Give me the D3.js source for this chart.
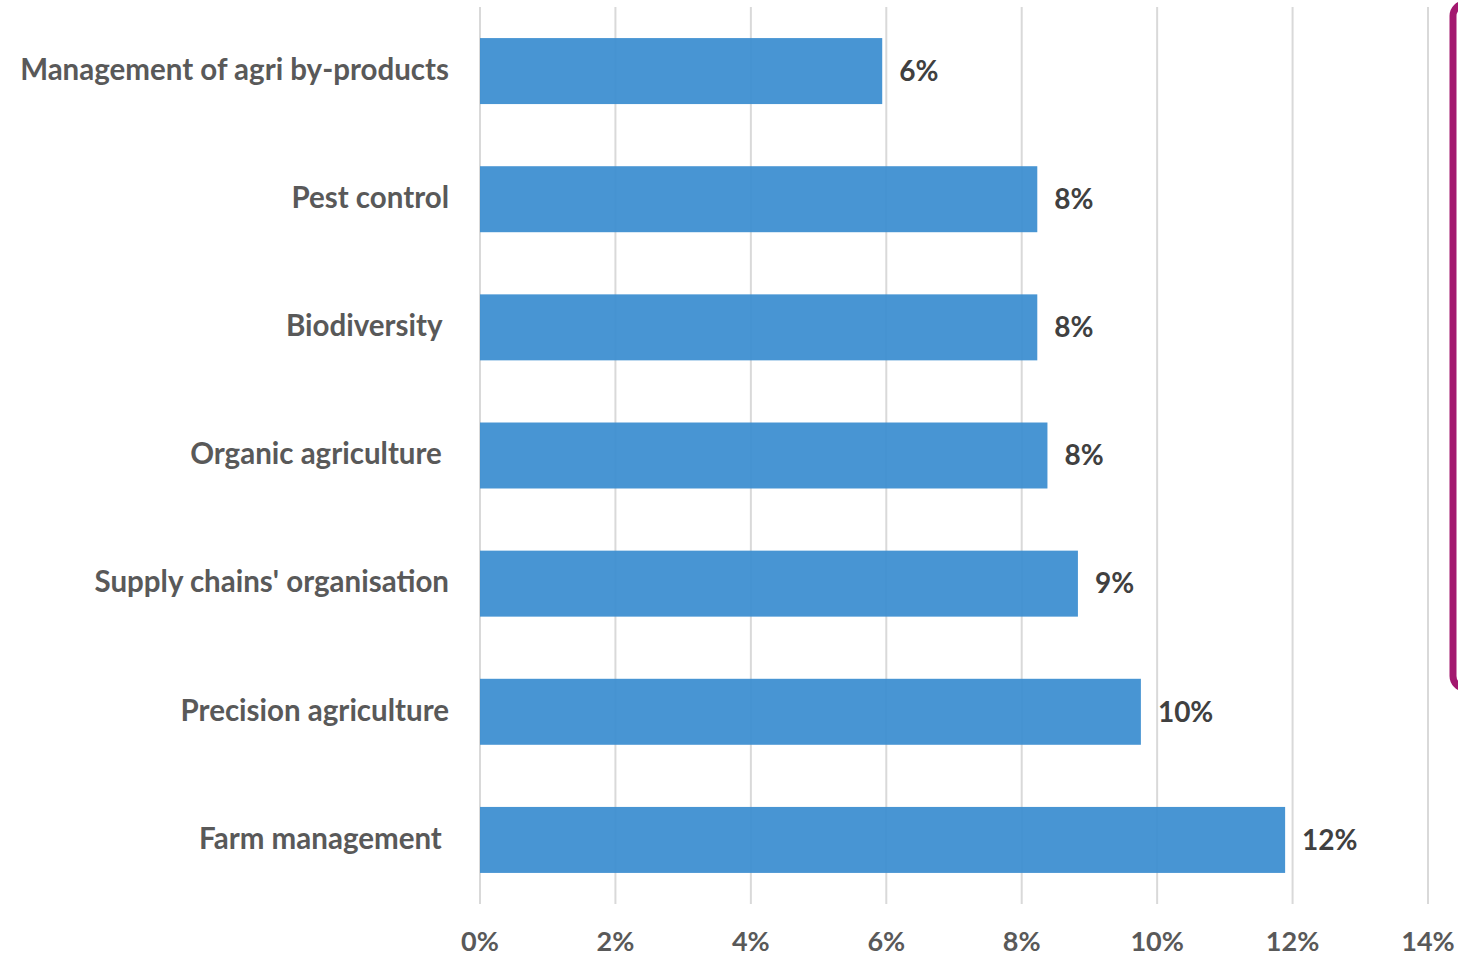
<!DOCTYPE html>
<html>
<head>
<meta charset="utf-8">
<script src="https://cdn.jsdelivr.net/npm/d3@7"></script>
<style>
  body { margin: 0; background: #fff; }
  text { font-family: Lato, "Open Sans", sans-serif; font-weight: bold; white-space: pre; }
</style>
</head>
<body>
<div id="chart-container"></div>
<script>
// Categories, top to bottom (trailing spaces kept as in the source labels)
const categories = [
  "Management of agri by-products",
  "Pest control",
  "Biodiversity ",
  "Organic agriculture ",
  "Supply chains' organisation",
  "Precision agriculture",
  "Farm management "
];
// Shares in percent
const values = [5.94, 8.23, 8.23, 8.38, 8.83, 9.76, 11.89];
const tickValues = [0, 2, 4, 6, 8, 10, 12, 14];

const width = 1458;
const height = 957;

const x = d3.scaleLinear().domain([0, 14]).range([480, 1428]);
const y = d3.scaleBand().domain(categories).range([7, 904]).paddingInner(0.485).paddingOuter(0.2425);

const svg = d3.create("svg")
  .attr("width", width)
  .attr("height", height);

document.getElementById("chart-container").appendChild(svg.node());

// Vertical gridlines (behind the bars)
svg.append("g")
  .selectAll("line")
  .data(tickValues)
  .join("line")
  .attr("x1", d => x(d))
  .attr("x2", d => x(d))
  .attr("y1", 7)
  .attr("y2", 904)
  .attr("stroke", "#d9d9d9")
  .attr("stroke-width", 2);

// Bars, slightly translucent so gridlines faintly show through
svg.append("g")
  .selectAll("rect")
  .data(categories)
  .join("rect")
  .attr("x", x(0))
  .attr("y", d => y(d))
  .attr("width", (d, i) => x(values[i]) - x(0))
  .attr("height", y.bandwidth())
  .attr("fill", "#3a8dd0")
  .attr("fill-opacity", 0.93);

// Category labels
svg.append("g")
  .selectAll("text")
  .data(categories)
  .join("text")
  .attr("x", 449)
  .attr("y", d => y(d) + y.bandwidth() / 2)
  .attr("dy", "0.3em")
  .attr("text-anchor", "end")
  .attr("font-size", 29.5)
  .attr("fill", "#595959")
  .text(d => d);

// Value labels
svg.append("g")
  .selectAll("text")
  .data(categories)
  .join("text")
  .attr("x", (d, i) => x(values[i]) + 17)
  .attr("y", d => y(d) + y.bandwidth() / 2)
  .attr("dy", "0.35em")
  .attr("font-size", 28)
  .attr("fill", "#404040")
  .text((d, i) => Math.round(values[i]) + "%");

// X axis tick labels
svg.append("g")
  .selectAll("text")
  .data(tickValues)
  .join("text")
  .attr("x", d => x(d))
  .attr("y", 951)
  .attr("text-anchor", "middle")
  .attr("font-size", 27)
  .attr("fill", "#595959")
  .text(d => d + "%");

// Magenta frame edge on the right
svg.append("rect")
  .attr("x", 1453)
  .attr("y", 4)
  .attr("width", 120)
  .attr("height", 684)
  .attr("rx", 12)
  .attr("fill", "none")
  .attr("stroke", "#a3186f")
  .attr("stroke-width", 7);
</script>
</body>
</html>
